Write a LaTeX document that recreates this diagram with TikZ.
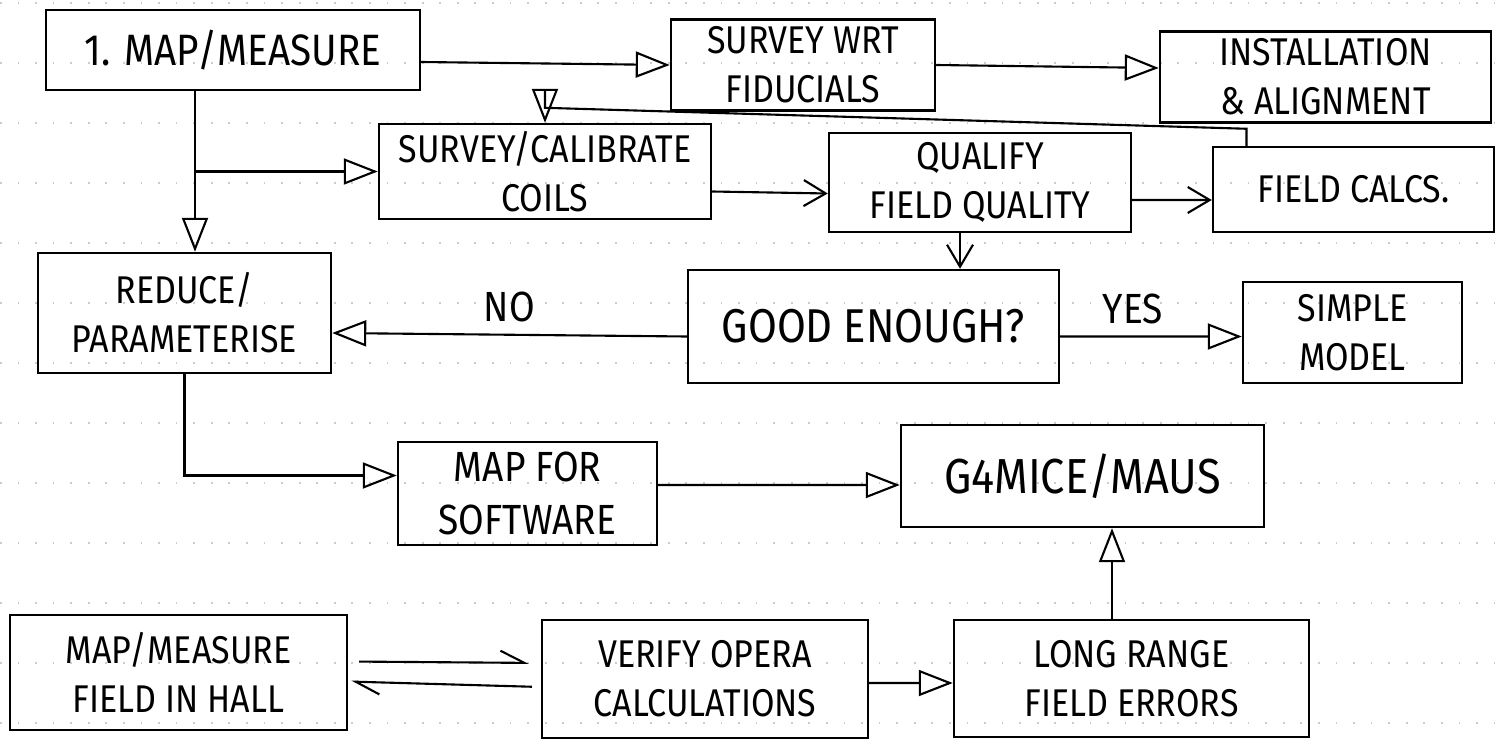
\documentclass[tikz,border=0pt]{standalone}
\usepackage{fontspec}
\setmainfont{Fira Sans}[FakeStretch=0.88]
\usepackage{tikz}
\usetikzlibrary{arrows.meta,positioning,calc}

\tikzset{
    stage/.style={draw, line width=0.7pt, align=center, inner sep=2pt,
        font=\fontsize{11}{14}\selectfont},
    tri/.style={line width=0.6pt, -{Triangle[open,length=3.4mm,width=2.6mm]}},
    barb/.style={line width=0.6pt, -{Straight Barb[length=2.2mm,width=2.6mm]}},
    half/.style={line width=0.6pt, -{Straight Barb[left,length=2.4mm,width=2.4mm]}},
    ruled/.style={gray!40, line width=0.5pt, dash pattern=on 0.5pt off 4.5pt}
}

\begin{document}
\begin{tikzpicture}[x=1cm, y=-1cm]
    \useasboundingbox (0,0) rectangle (15.04,7.45);

    % notepad rules
    \foreach \k in {0,...,12}
        \draw[ruled] (0,{0.03+0.6*\k}) -- (15.04,{0.03+0.6*\k});

    % Top row
    \node[stage, minimum width=3.74cm, minimum height=0.80cm,
          font=\fontsize{12.5}{15}\selectfont] (map) at (2.33,0.50) {1. MAP/MEASURE};
    \node[stage, minimum width=2.64cm, minimum height=0.86cm] (wrt) at (8.03,0.65) {SURVEY WRT\\FIDUCIALS};
    \node[stage, minimum width=3.31cm, minimum height=0.90cm] (install) at (13.255,0.77) {INSTALLATION\\\& ALIGNMENT};

    % Second row
    \node[stage, minimum width=3.32cm, minimum height=0.93cm] (coils) at (5.45,1.715) {SURVEY/CALIBRATE\\COILS};
    \node[stage, minimum width=3.02cm, minimum height=0.99cm] (qualify) at (9.80,1.825) {QUALIFY\\FIELD QUALITY};
    \node[stage, minimum width=2.81cm, minimum height=0.85cm] (calcs) at (13.535,1.895) {FIELD CALCS.};

    % Decision row
    \node[stage, minimum width=2.93cm, minimum height=1.20cm] (reduce) at (1.845,3.13) {REDUCE/\\PARAMETERISE};
    \node[stage, minimum width=3.71cm, minimum height=1.13cm,
          font=\fontsize{13.5}{16}\selectfont] (good) at (8.735,3.265) {GOOD ENOUGH?};
    \node[stage, minimum width=2.19cm, minimum height=1.01cm] (simple) at (13.525,3.325) {SIMPLE\\MODEL};

    % Software row
    \node[stage, minimum width=2.59cm, minimum height=1.03cm,
          font=\fontsize{12}{15}\selectfont] (soft) at (5.275,4.935) {MAP FOR\\SOFTWARE};
    \node[stage, minimum width=3.63cm, minimum height=1.02cm,
          font=\fontsize{14}{16}\selectfont] (maus) at (10.825,4.76) {G4MICE/MAUS};

    % Hall row
    \node[stage, minimum width=3.37cm, minimum height=1.15cm] (hall) at (1.785,6.725) {MAP/MEASURE\\FIELD IN HALL};
    \node[stage, minimum width=3.26cm, minimum height=1.18cm] (opera) at (7.05,6.79) {VERIFY OPERA\\CALCULATIONS};
    \node[stage, minimum width=3.55cm, minimum height=1.17cm] (errors) at (11.315,6.785) {LONG RANGE\\FIELD ERRORS};

    % Connectors
    \draw[tri] ([yshift=-1.2mm]map.east) -- (wrt.west);
    \draw[tri] (wrt.east) -- ([yshift=0.9mm]install.west);
    \draw[tri] ([xshift=-3.8mm]map.south) -- ([xshift=-3.8mm]map.south |- reduce.north);
    \draw[tri] ([xshift=-3.8mm]map.south |- coils.west) -- (coils.west);
    \draw[tri] ([xshift=-10.7mm]calcs.north) -- ++(0,-0.17) -- ([yshift=1.5mm]coils.north) -- (coils.north);
    \draw[barb] ([yshift=-2mm]coils.east) -- ([yshift=-1.1mm]qualify.west);
    \draw[barb] ([yshift=-1.75mm]qualify.east) -- ([yshift=-1.05mm]calcs.west);
    \draw[barb] ([xshift=-2mm]qualify.south) -- ([xshift=-2mm]qualify.south |- good.north);
    \draw[tri] ([yshift=-1mm]good.west) -- node[above, font=\fontsize{12}{14}\selectfont] (no) {NO} ([yshift=-2mm]reduce.east);
    \draw[tri] ([yshift=-1mm]good.east) -- node[pos=0.4, above, font=\fontsize{12}{14}\selectfont] (yes) {YES} ([yshift=-0.4mm]simple.west);
    \draw[tri] (reduce.south) |- ([yshift=1.8mm]soft.west);
    \draw[tri] ([yshift=0.85mm]soft.east) -- ([yshift=-0.9mm]maus.west);
    \draw[tri] ([xshift=-1.95mm]errors.north) -- ([xshift=-1.95mm]errors.north |- maus.south);
    \draw[half, shorten <=1.1mm, shorten >=1.2mm] ([yshift=1.1mm]hall.east) -- ([yshift=1.6mm]opera.west);
    \draw[half, shorten <=0.9mm, shorten >=0.3mm] ([yshift=-0.8mm]opera.west) -- ([yshift=-0.9mm]hall.east);
    \draw[tri] ([yshift=-0.4mm]opera.east) -- ([yshift=-0.45mm]errors.west);
\end{tikzpicture}
\end{document}
